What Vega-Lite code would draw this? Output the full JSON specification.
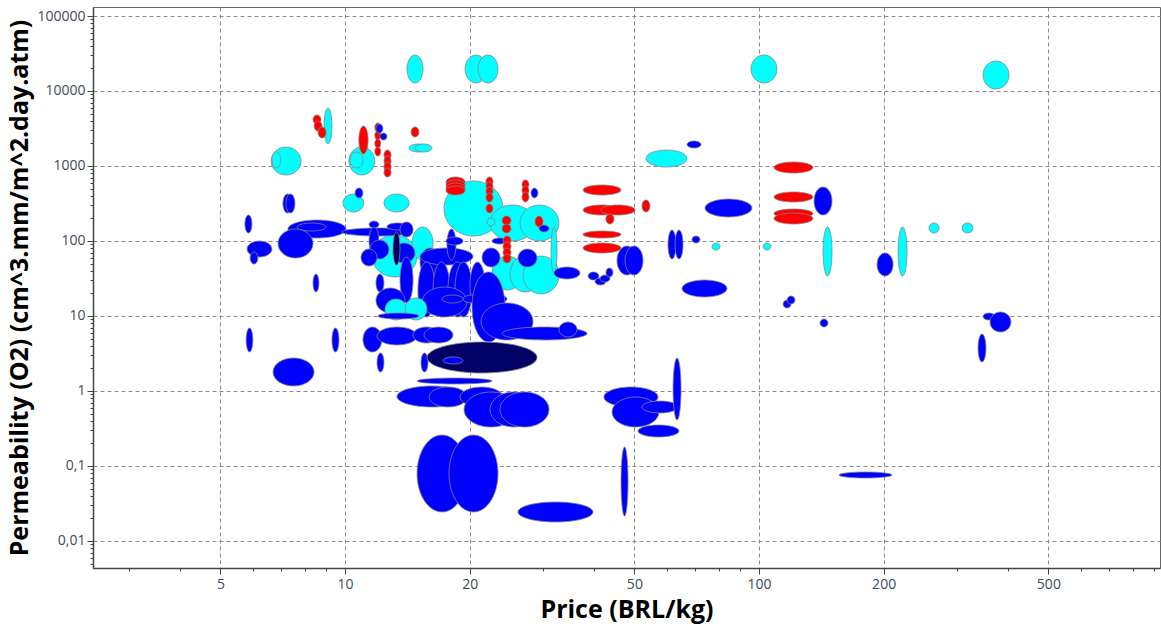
{
  "$schema": "https://vega.github.io/schema/vega-lite/v6.json",
  "width": 1067,
  "height": 561,
  "autosize": "none",
  "padding": {"left": 93, "top": 7, "right": 1, "bottom": 60},
  "background": "white",
  "config": {
    "view": {"stroke": "#666666", "strokeWidth": 1},
    "axis": {"labelFont": "Open Sans", "titleFont": "Open Sans", "labelColor": "#3c4b5c", "labelFontSize": 14, "titleFontSize": 25, "titleFontWeight": "bold", "titleColor": "#000000"}
  },
  "data": {"values": [
    {"family": "Bio", "priceLo": 14.12, "priceHi": 15.43, "permLo": 12780, "permHi": 30200},
    {"family": "Bio", "priceLo": 19.5, "priceHi": 22.03, "permLo": 12780, "permHi": 30200},
    {"family": "Bio", "priceLo": 20.96, "priceHi": 23.42, "permLo": 12780, "permHi": 30200},
    {"family": "Bio", "priceLo": 95.65, "priceHi": 110.5, "permLo": 12780, "permHi": 30200},
    {"family": "Bio", "priceLo": 347.6, "priceHi": 401.6, "permLo": 10630, "permHi": 25119},
    {"family": "Bio", "priceLo": 8.9, "priceHi": 9.3, "permLo": 1965, "permHi": 5933},
    {"family": "Bio", "priceLo": 6.63, "priceHi": 7.83, "permLo": 758.6, "permHi": 1792},
    {"family": "Bio", "priceLo": 6.66, "priceHi": 7.0, "permLo": 940.5, "permHi": 1537},
    {"family": "Bio", "priceLo": 10.22, "priceHi": 11.8, "permLo": 758.6, "permHi": 1792},
    {"family": "Bio", "priceLo": 10.28, "priceHi": 11.05, "permLo": 940.5, "permHi": 1537},
    {"family": "Bio", "priceLo": 14.28, "priceHi": 15.87, "permLo": 1537, "permHi": 1965},
    {"family": "Bio", "priceLo": 14.76, "priceHi": 16.22, "permLo": 1537, "permHi": 1965},
    {"family": "Bio", "priceLo": 53.34, "priceHi": 66.99, "permLo": 969.8, "permHi": 1634},
    {"family": "Bio", "priceLo": 9.89, "priceHi": 11.1, "permLo": 243.6, "permHi": 423.4},
    {"family": "Bio", "priceLo": 12.42, "priceHi": 14.28, "permLo": 243.6, "permHi": 423.4},
    {"family": "Bio", "priceLo": 17.34, "priceHi": 24.08, "permLo": 116.6, "permHi": 631},
    {"family": "Bio", "priceLo": 22.4, "priceHi": 28.77, "permLo": 100, "permHi": 302},
    {"family": "Bio", "priceLo": 26.47, "priceHi": 32.88, "permLo": 100, "permHi": 302},
    {"family": "Bio", "priceLo": 11.62, "priceHi": 14.93, "permLo": 33.11, "permHi": 120.2},
    {"family": "Bio", "priceLo": 14.52, "priceHi": 16.32, "permLo": 55.81, "permHi": 153.7},
    {"family": "Bio", "priceLo": 22.65, "priceHi": 26.92, "permLo": 22.22, "permHi": 63.1},
    {"family": "Bio", "priceLo": 25.04, "priceHi": 29.58, "permLo": 20.89, "permHi": 63.1},
    {"family": "Bio", "priceLo": 26.92, "priceHi": 32.88, "permLo": 19.65, "permHi": 63.1},
    {"family": "Bio", "priceLo": 31.45, "priceHi": 32.52, "permLo": 37.43, "permHi": 153.7},
    {"family": "Plastic", "priceLo": 7.28, "priceHi": 10.06, "permLo": 109.6, "permHi": 190.5},
    {"family": "Plastic", "priceLo": 7.66, "priceHi": 9.0, "permLo": 135.9, "permHi": 173.8},
    {"family": "Plastic", "priceLo": 6.89, "priceHi": 8.37, "permLo": 59.33, "permHi": 144.5},
    {"family": "Plastic", "priceLo": 5.8, "priceHi": 6.66, "permLo": 61.17, "permHi": 100},
    {"family": "Plastic", "priceLo": 5.9, "priceHi": 6.16, "permLo": 49.36, "permHi": 71.35},
    {"family": "Plastic", "priceLo": 5.73, "priceHi": 5.96, "permLo": 127.8, "permHi": 222.2},
    {"family": "Plastic", "priceLo": 7.08, "priceHi": 7.45, "permLo": 236.2, "permHi": 423.4},
    {"family": "Plastic", "priceLo": 7.2, "priceHi": 7.57, "permLo": 236.2, "permHi": 423.4},
    {"family": "Plastic", "priceLo": 10.57, "priceHi": 11.05, "permLo": 374.3, "permHi": 508.8},
    {"family": "Plastic", "priceLo": 9.83, "priceHi": 14.6, "permLo": 116.6, "permHi": 149.1},
    {"family": "Plastic", "priceLo": 11.43, "priceHi": 12.08, "permLo": 149.1, "permHi": 184.8},
    {"family": "Plastic", "priceLo": 12.63, "priceHi": 14.2, "permLo": 140.2, "permHi": 173.8},
    {"family": "Plastic", "priceLo": 13.58, "priceHi": 14.6, "permLo": 113.0, "permHi": 179.2},
    {"family": "Plastic", "priceLo": 11.43, "priceHi": 12.08, "permLo": 65.07, "permHi": 153.7},
    {"family": "Plastic", "priceLo": 11.49, "priceHi": 12.77, "permLo": 57.54, "permHi": 103.1},
    {"family": "Plastic", "priceLo": 10.93, "priceHi": 11.95, "permLo": 46.42, "permHi": 78.2},
    {"family": "Plastic", "priceLo": 13.06, "priceHi": 14.76, "permLo": 50.88, "permHi": 94.04},
    {"family": "Selected", "priceLo": 13.06, "priceHi": 13.58, "permLo": 47.86, "permHi": 131.8},
    {"family": "Plastic", "priceLo": 15.18, "priceHi": 16.96, "permLo": 33.11, "permHi": 80.66},
    {"family": "Plastic", "priceLo": 13.58, "priceHi": 14.6, "permLo": 14.91, "permHi": 61.17},
    {"family": "Plastic", "priceLo": 8.37, "priceHi": 8.65, "permLo": 20.89, "permHi": 36.31},
    {"family": "Plastic", "priceLo": 11.88, "priceHi": 12.42, "permLo": 20.89, "permHi": 36.31},
    {"family": "Plastic", "priceLo": 11.88, "priceHi": 13.96, "permLo": 10.96, "permHi": 23.62},
    {"family": "Plastic", "priceLo": 15.01, "priceHi": 16.96, "permLo": 10.96, "permHi": 37.43},
    {"family": "Plastic", "priceLo": 15.18, "priceHi": 20.38, "permLo": 47.86, "permHi": 80.66},
    {"family": "Plastic", "priceLo": 17.63, "priceHi": 18.54, "permLo": 55.81, "permHi": 144.5},
    {"family": "Plastic", "priceLo": 17.54, "priceHi": 19.28, "permLo": 88.44, "permHi": 113.0},
    {"family": "Plastic", "priceLo": 22.65, "priceHi": 24.62, "permLo": 91.2, "permHi": 109.6},
    {"family": "Plastic", "priceLo": 21.43, "priceHi": 23.68, "permLo": 45.0, "permHi": 80.66},
    {"family": "Plastic", "priceLo": 26.17, "priceHi": 29.09, "permLo": 45.0, "permHi": 78.2},
    {"family": "Plastic", "priceLo": 15.01, "priceHi": 16.5, "permLo": 9.698, "permHi": 52.48},
    {"family": "Plastic", "priceLo": 16.32, "priceHi": 17.93, "permLo": 9.698, "permHi": 52.48},
    {"family": "Plastic", "priceLo": 17.73, "priceHi": 19.71, "permLo": 9.698, "permHi": 52.48},
    {"family": "Plastic", "priceLo": 18.44, "priceHi": 20.27, "permLo": 9.698, "permHi": 52.48},
    {"family": "Plastic", "priceLo": 20.04, "priceHi": 21.79, "permLo": 12.02, "permHi": 52.48},
    {"family": "Plastic", "priceLo": 15.35, "priceHi": 19.71, "permLo": 9.698, "permHi": 24.36},
    {"family": "Plastic", "priceLo": 17.15, "priceHi": 19.28, "permLo": 14.91, "permHi": 19.05},
    {"family": "Plastic", "priceLo": 19.28, "priceHi": 21.54, "permLo": 14.91, "permHi": 19.05},
    {"family": "Plastic", "priceLo": 22.15, "priceHi": 24.62, "permLo": 14.91, "permHi": 19.05},
    {"family": "Plastic", "priceLo": 20.27, "priceHi": 24.35, "permLo": 4.5, "permHi": 38.61},
    {"family": "Plastic", "priceLo": 21.31, "priceHi": 28.45, "permLo": 4.786, "permHi": 14.91},
    {"family": "Bio", "priceLo": 12.49, "priceHi": 14.12, "permLo": 8.844, "permHi": 16.86},
    {"family": "Bio", "priceLo": 13.96, "priceHi": 15.78, "permLo": 8.844, "permHi": 17.38},
    {"family": "Plastic", "priceLo": 12.01, "priceHi": 15.09, "permLo": 9.12, "permHi": 10.96},
    {"family": "Plastic", "priceLo": 11.05, "priceHi": 12.28, "permLo": 3.311, "permHi": 7.135},
    {"family": "Plastic", "priceLo": 11.95, "priceHi": 14.93, "permLo": 4.106, "permHi": 7.135},
    {"family": "Plastic", "priceLo": 14.6, "priceHi": 16.96, "permLo": 4.365, "permHi": 7.135},
    {"family": "Plastic", "priceLo": 15.52, "priceHi": 18.23, "permLo": 4.365, "permHi": 7.135},
    {"family": "Plastic", "priceLo": 5.77, "priceHi": 5.99, "permLo": 3.311, "permHi": 6.918},
    {"family": "Plastic", "priceLo": 9.3, "priceHi": 9.67, "permLo": 3.311, "permHi": 6.918},
    {"family": "Plastic", "priceLo": 6.7, "priceHi": 8.42, "permLo": 1.166, "permHi": 2.754},
    {"family": "Plastic", "priceLo": 11.95, "priceHi": 12.42, "permLo": 1.792, "permHi": 3.212},
    {"family": "Plastic", "priceLo": 15.26, "priceHi": 15.87, "permLo": 1.792, "permHi": 3.212},
    {"family": "Plastic", "priceLo": 23.95, "priceHi": 38.41, "permLo": 4.786, "permHi": 7.135},
    {"family": "Plastic", "priceLo": 32.88, "priceHi": 36.35, "permLo": 5.248, "permHi": 8.318},
    {"family": "Selected", "priceLo": 15.78, "priceHi": 29.09, "permLo": 1.738, "permHi": 4.5},
    {"family": "Plastic", "priceLo": 17.25, "priceHi": 19.28, "permLo": 2.291, "permHi": 2.84},
    {"family": "Plastic", "priceLo": 14.93, "priceHi": 22.65, "permLo": 1.24, "permHi": 1.491},
    {"family": "Plastic", "priceLo": 13.35, "priceHi": 19.71, "permLo": 0.6119, "permHi": 1.166},
    {"family": "Plastic", "priceLo": 15.96, "priceHi": 19.71, "permLo": 0.6119, "permHi": 1.131},
    {"family": "Plastic", "priceLo": 18.96, "priceHi": 24.08, "permLo": 0.6119, "permHi": 1.131},
    {"family": "Plastic", "priceLo": 19.39, "priceHi": 26.17, "permLo": 0.3311, "permHi": 0.9698},
    {"family": "Plastic", "priceLo": 22.4, "priceHi": 29.09, "permLo": 0.3311, "permHi": 0.9698},
    {"family": "Plastic", "priceLo": 23.68, "priceHi": 31.1, "permLo": 0.3311, "permHi": 0.9698},
    {"family": "Plastic", "priceLo": 42.21, "priceHi": 57.02, "permLo": 0.6119, "permHi": 1.131},
    {"family": "Plastic", "priceLo": 44.16, "priceHi": 57.33, "permLo": 0.3311, "permHi": 0.8318},
    {"family": "Plastic", "priceLo": 52.16, "priceHi": 63.74, "permLo": 0.5088, "permHi": 0.7356},
    {"family": "Plastic", "priceLo": 62.0, "priceHi": 64.82, "permLo": 0.4106, "permHi": 2.754},
    {"family": "Plastic", "priceLo": 51.02, "priceHi": 64.1, "permLo": 0.2436, "permHi": 0.3521},
    {"family": "Plastic", "priceLo": 14.93, "priceHi": 19.71, "permLo": 0.02436, "permHi": 0.2591},
    {"family": "Plastic", "priceLo": 17.83, "priceHi": 23.42, "permLo": 0.02436, "permHi": 0.2591},
    {"family": "Plastic", "priceLo": 26.17, "priceHi": 39.72, "permLo": 0.01792, "permHi": 0.03311},
    {"family": "Plastic", "priceLo": 46.42, "priceHi": 48.27, "permLo": 0.02154, "permHi": 0.1792},
    {"family": "Plastic", "priceLo": 31.97, "priceHi": 36.95, "permLo": 31.14, "permHi": 45.0},
    {"family": "Plastic", "priceLo": 38.64, "priceHi": 41.05, "permLo": 30.2, "permHi": 38.61},
    {"family": "Plastic", "priceLo": 40.17, "priceHi": 42.68, "permLo": 25.91, "permHi": 32.11},
    {"family": "Plastic", "priceLo": 41.3, "priceHi": 43.66, "permLo": 28.4, "permHi": 35.22},
    {"family": "Plastic", "priceLo": 42.68, "priceHi": 44.4, "permLo": 33.11, "permHi": 43.65},
    {"family": "Plastic", "priceLo": 45.39, "priceHi": 50.74, "permLo": 35.22, "permHi": 85.77},
    {"family": "Plastic", "priceLo": 47.47, "priceHi": 52.46, "permLo": 35.22, "permHi": 85.77},
    {"family": "Plastic", "priceLo": 60.28, "priceHi": 63.03, "permLo": 57.54, "permHi": 140.2},
    {"family": "Plastic", "priceLo": 62.68, "priceHi": 65.54, "permLo": 57.54, "permHi": 140.2},
    {"family": "Plastic", "priceLo": 68.88, "priceHi": 72.04, "permLo": 94.04, "permHi": 116.6},
    {"family": "Plastic", "priceLo": 74.06, "priceHi": 96.19, "permLo": 208.9, "permHi": 363.1},
    {"family": "Plastic", "priceLo": 65.16, "priceHi": 83.7, "permLo": 17.92, "permHi": 30.2},
    {"family": "Plastic", "priceLo": 114.3, "priceHi": 119.5, "permLo": 12.78, "permHi": 16.34},
    {"family": "Plastic", "priceLo": 116.9, "priceHi": 122.2, "permLo": 14.45, "permHi": 18.48},
    {"family": "Plastic", "priceLo": 135.8, "priceHi": 150.1, "permLo": 222.2, "permHi": 524.8},
    {"family": "Plastic", "priceLo": 192.8, "priceHi": 210.8, "permLo": 34.15, "permHi": 69.18},
    {"family": "Plastic", "priceLo": 140.4, "priceHi": 146.8, "permLo": 7.135, "permHi": 9.12},
    {"family": "Plastic", "priceLo": 347.6, "priceHi": 371.5, "permLo": 8.844, "permHi": 10.96},
    {"family": "Plastic", "priceLo": 361.4, "priceHi": 406.1, "permLo": 6.119, "permHi": 11.31},
    {"family": "Plastic", "priceLo": 338.1, "priceHi": 353.4, "permLo": 2.436, "permHi": 5.754},
    {"family": "Plastic", "priceLo": 156.0, "priceHi": 209.6, "permLo": 0.06918, "permHi": 0.08318},
    {"family": "Plastic", "priceLo": 66.99, "priceHi": 72.44, "permLo": 1738, "permHi": 2154},
    {"family": "Elastomer", "priceLo": 8.37, "priceHi": 8.75, "permLo": 3631, "permHi": 4786},
    {"family": "Elastomer", "priceLo": 8.42, "priceHi": 8.8, "permLo": 2929, "permHi": 3981},
    {"family": "Elastomer", "priceLo": 8.61, "priceHi": 9.0, "permLo": 2362, "permHi": 3311},
    {"family": "Elastomer", "priceLo": 10.8, "priceHi": 11.37, "permLo": 1445, "permHi": 3415},
    {"family": "Elastomer", "priceLo": 11.8, "priceHi": 12.2, "permLo": 2840, "permHi": 3743},
    {"family": "Elastomer", "priceLo": 11.8, "priceHi": 12.2, "permLo": 2222, "permHi": 2929},
    {"family": "Elastomer", "priceLo": 11.8, "priceHi": 12.2, "permLo": 1738, "permHi": 2291},
    {"family": "Elastomer", "priceLo": 11.8, "priceHi": 12.2, "permLo": 1359, "permHi": 1792},
    {"family": "Elastomer", "priceLo": 12.42, "priceHi": 12.92, "permLo": 1202, "permHi": 1634},
    {"family": "Elastomer", "priceLo": 12.42, "priceHi": 12.92, "permLo": 1000, "permHi": 1359},
    {"family": "Elastomer", "priceLo": 12.42, "priceHi": 12.92, "permLo": 831.8, "permHi": 1130},
    {"family": "Elastomer", "priceLo": 12.42, "priceHi": 12.92, "permLo": 713.5, "permHi": 940.5},
    {"family": "Elastomer", "priceLo": 14.44, "priceHi": 15.09, "permLo": 2436, "permHi": 3311},
    {"family": "Elastomer", "priceLo": 17.54, "priceHi": 19.5, "permLo": 524.8, "permHi": 713.5},
    {"family": "Elastomer", "priceLo": 17.54, "priceHi": 19.5, "permLo": 478.6, "permHi": 650.5},
    {"family": "Elastomer", "priceLo": 17.54, "priceHi": 19.5, "permLo": 436.5, "permHi": 593.3},
    {"family": "Elastomer", "priceLo": 17.54, "priceHi": 19.5, "permLo": 410.5, "permHi": 541.2},
    {"family": "Elastomer", "priceLo": 21.9, "priceHi": 22.78, "permLo": 541.2, "permHi": 713.5},
    {"family": "Elastomer", "priceLo": 21.9, "priceHi": 22.78, "permLo": 464.2, "permHi": 611.9},
    {"family": "Elastomer", "priceLo": 21.9, "priceHi": 22.78, "permLo": 398.1, "permHi": 524.8},
    {"family": "Elastomer", "priceLo": 21.9, "priceHi": 22.78, "permLo": 331.1, "permHi": 436.5},
    {"family": "Elastomer", "priceLo": 21.9, "priceHi": 22.78, "permLo": 236.2, "permHi": 311.4},
    {"family": "Elastomer", "priceLo": 26.76, "priceHi": 27.82, "permLo": 493.6, "permHi": 650.5},
    {"family": "Elastomer", "priceLo": 26.76, "priceHi": 27.82, "permLo": 410.5, "permHi": 541.2},
    {"family": "Elastomer", "priceLo": 26.76, "priceHi": 27.82, "permLo": 331.1, "permHi": 450.1},
    {"family": "Elastomer", "priceLo": 23.95, "priceHi": 25.18, "permLo": 163.4, "permHi": 215.4},
    {"family": "Elastomer", "priceLo": 23.95, "priceHi": 25.18, "permLo": 127.8, "permHi": 168.5},
    {"family": "Elastomer", "priceLo": 28.77, "priceHi": 30.08, "permLo": 153.7, "permHi": 215.4},
    {"family": "Elastomer", "priceLo": 24.08, "priceHi": 25.18, "permLo": 88.44, "permHi": 116.6},
    {"family": "Elastomer", "priceLo": 24.08, "priceHi": 25.18, "permLo": 73.56, "permHi": 96.98},
    {"family": "Elastomer", "priceLo": 24.08, "priceHi": 25.18, "permLo": 61.17, "permHi": 80.66},
    {"family": "Elastomer", "priceLo": 24.08, "priceHi": 25.18, "permLo": 50.88, "permHi": 67.08},
    {"family": "Elastomer", "priceLo": 37.57, "priceHi": 46.42, "permLo": 410.5, "permHi": 557.9},
    {"family": "Elastomer", "priceLo": 37.57, "priceHi": 46.42, "permLo": 222.2, "permHi": 302.0},
    {"family": "Elastomer", "priceLo": 41.52, "priceHi": 50.18, "permLo": 222.2, "permHi": 302.0},
    {"family": "Elastomer", "priceLo": 42.68, "priceHi": 44.65, "permLo": 168.5, "permHi": 229.1},
    {"family": "Elastomer", "priceLo": 52.16, "priceHi": 54.53, "permLo": 243.6, "permHi": 352.0},
    {"family": "Elastomer", "priceLo": 37.57, "priceHi": 46.42, "permLo": 109.6, "permHi": 135.9},
    {"family": "Elastomer", "priceLo": 37.57, "priceHi": 46.42, "permLo": 69.18, "permHi": 94.04},
    {"family": "Elastomer", "priceLo": 108.7, "priceHi": 135.0, "permLo": 806.5, "permHi": 1130},
    {"family": "Elastomer", "priceLo": 108.7, "priceHi": 135.0, "permLo": 331.1, "permHi": 450.1},
    {"family": "Elastomer", "priceLo": 108.7, "priceHi": 135.0, "permLo": 202.6, "permHi": 267.2},
    {"family": "Elastomer", "priceLo": 108.7, "priceHi": 135.0, "permLo": 168.5, "permHi": 236.2},
    {"family": "Plastic", "priceLo": 11.88, "priceHi": 12.35, "permLo": 2754, "permHi": 3631},
    {"family": "Plastic", "priceLo": 12.15, "priceHi": 12.63, "permLo": 2222, "permHi": 2754},
    {"family": "Plastic", "priceLo": 28.13, "priceHi": 29.25, "permLo": 374.3, "permHi": 508.8},
    {"family": "Plastic", "priceLo": 29.42, "priceHi": 31.1, "permLo": 131.8, "permHi": 163.4},
    {"family": "Bio", "priceLo": 22.03, "priceHi": 23.03, "permLo": 158.5, "permHi": 202.6},
    {"family": "Bio", "priceLo": 77.0, "priceHi": 80.51, "permLo": 75.86, "permHi": 94.04},
    {"family": "Bio", "priceLo": 102.3, "priceHi": 106.9, "permLo": 75.86, "permHi": 94.04},
    {"family": "Bio", "priceLo": 257.4, "priceHi": 272.2, "permLo": 127.8, "permHi": 173.8},
    {"family": "Bio", "priceLo": 309.3, "priceHi": 328.8, "permLo": 127.8, "permHi": 173.8},
    {"family": "Bio", "priceLo": 142.8, "priceHi": 150.1, "permLo": 34.15, "permHi": 153.7},
    {"family": "Bio", "priceLo": 216.7, "priceHi": 227.8, "permLo": 34.15, "permHi": 153.7}
  ]},
  "layer": [
    {
      "mark": {
        "type": "point",
        "filled": true,
        "opacity": 1,
        "size": 4,
        "stroke": "#858585",
        "strokeWidth": 0.8,
        "shape": {"expr": "'M0,' + (-(scale('y',datum.permLo)-scale('y',datum.permHi))/2) + 'A' + ((scale('x',datum.priceHi)-scale('x',datum.priceLo))/2) + ',' + ((scale('y',datum.permLo)-scale('y',datum.permHi))/2) + ' 0 1 0 ' + (scale('x',datum.priceHi)-scale('x',datum.priceLo)) + ',' + (-(scale('y',datum.permLo)-scale('y',datum.permHi))/2) + 'A' + ((scale('x',datum.priceHi)-scale('x',datum.priceLo))/2) + ',' + ((scale('y',datum.permLo)-scale('y',datum.permHi))/2) + ' 0 1 0 0,' + (-(scale('y',datum.permLo)-scale('y',datum.permHi))/2) + 'Z'"}
      },
      "encoding": {
        "x": {"field": "priceLo", "type": "quantitative", "scale": {"type": "log", "domain": [2.462, 930.3], "nice": false},
              "axis": {"orient": "bottom", "title": "Price (BRL/kg)", "values": [5, 10, 20, 50, 100, 200, 500], "labelExpr": "replace(toString(datum.value), '.', ',')", "grid": true, "gridColor": "#8a8a8a", "gridDash": [4, 3], "gridWidth": 1, "tickSize": 6, "tickColor": "#444", "domainColor": "#444", "domainWidth": 1.5, "labelPadding": 3, "titlePadding": 6}},
        "y": {"field": "permLo", "type": "quantitative", "scale": {"type": "log", "domain": [0.004365, 131826], "nice": false},
              "axis": {"orient": "left", "title": "Permeability (O2) (cm^3.mm/m^2.day.atm)", "values": [0.01, 0.1, 1, 10, 100, 1000, 10000, 100000], "labelExpr": "replace(toString(datum.value), '.', ',')", "grid": true, "gridColor": "#8a8a8a", "gridDash": [4, 3], "gridWidth": 1, "tickSize": 6, "tickColor": "#444", "domainColor": "#444", "domainWidth": 1.5, "labelPadding": 2, "titlePadding": 4}},
        "color": {"field": "family", "type": "nominal", "legend": null,
                  "scale": {"domain": ["Plastic", "Bio", "Elastomer", "Selected"], "range": ["#0000ff", "#00ffff", "#ff0000", "#000066"]}}
      }
    },
    {
      "mark": {"type": "point", "opacity": 0, "size": 1},
      "encoding": {
        "x": {"field": "priceLo", "type": "quantitative", "scale": {"type": "log", "domain": [2.462, 930.3], "nice": false},
              "axis": {"orient": "bottom", "title": null, "values": [3, 4, 6, 7, 8, 9, 30, 40, 60, 70, 80, 90, 300, 400, 600, 700, 800, 900], "labels": false, "grid": false, "domain": false, "tickSize": 3, "tickColor": "#444"}},
        "y": {"field": "permLo", "type": "quantitative", "scale": {"type": "log", "domain": [0.004365, 131826], "nice": false},
              "axis": {"orient": "left", "title": null, "values": [0.005, 0.006, 0.007, 0.008, 0.009, 0.02, 0.03, 0.04, 0.05, 0.06, 0.07, 0.08, 0.09, 0.2, 0.3, 0.4, 0.5, 0.6, 0.7, 0.8, 0.9, 2, 3, 4, 5, 6, 7, 8, 9, 20, 30, 40, 50, 60, 70, 80, 90, 200, 300, 400, 500, 600, 700, 800, 900, 2000, 3000, 4000, 5000, 6000, 7000, 8000, 9000, 20000, 30000, 40000, 50000, 60000, 70000, 80000, 90000], "labels": false, "grid": false, "domain": false, "tickSize": 3, "tickColor": "#444"}}
      }
    }
  ],
  "resolve": {"axis": {"x": "independent", "y": "independent"}}
}
